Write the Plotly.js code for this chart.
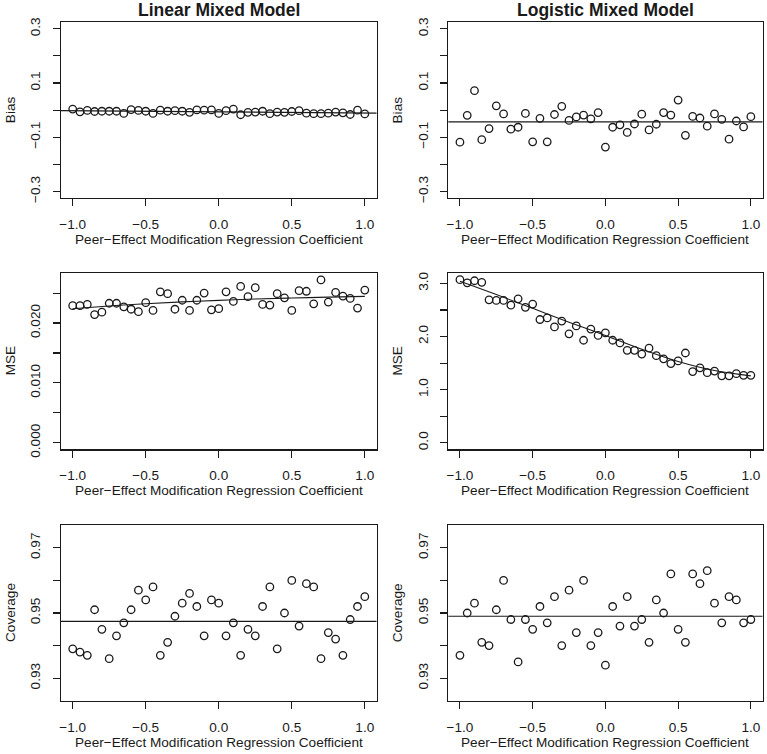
<!DOCTYPE html>
<html>
<head>
<meta charset="utf-8">
<script src="https://cdn.plot.ly/plotly-3.0.1.min.js"></script>
<style>html,body{margin:0;padding:0;background:#fff;}#chart{width:767px;height:754px;}</style>
</head>
<body>
<div id="chart"></div>
<script>
// ---------------- data ----------------
const coef = [-1.00,-0.95,-0.90,-0.85,-0.80,-0.75,-0.70,-0.65,-0.60,-0.55,-0.50,-0.45,-0.40,-0.35,-0.30,-0.25,-0.20,-0.15,-0.10,-0.05,
  0.00,0.05,0.10,0.15,0.20,0.25,0.30,0.35,0.40,0.45,0.50,0.55,0.60,0.65,0.70,0.75,0.80,0.85,0.90,0.95,1.00];

const linearBias = [0.004,-0.006,-0.001,-0.005,-0.004,-0.004,-0.004,-0.012,0.002,-0.001,-0.004,-0.012,0.000,-0.004,-0.002,-0.004,-0.008,0.001,0.000,0.001,
  -0.012,-0.002,0.004,-0.017,-0.008,-0.007,-0.004,-0.013,-0.007,-0.008,-0.005,-0.002,-0.011,-0.013,-0.013,-0.011,-0.007,-0.010,-0.016,0.000,-0.014];
const logisticBias = [-0.118,-0.019,0.072,-0.109,-0.068,0.016,-0.014,-0.070,-0.063,-0.012,-0.117,-0.030,-0.117,-0.016,0.014,-0.038,-0.025,-0.018,-0.032,-0.009,
  -0.136,-0.063,-0.054,-0.082,-0.051,-0.015,-0.073,-0.052,-0.009,-0.018,0.037,-0.093,-0.023,-0.029,-0.059,-0.014,-0.034,-0.107,-0.040,-0.062,-0.024];

const linearMSE = [0.0229,0.0229,0.0231,0.0214,0.0218,0.0233,0.0233,0.0227,0.0223,0.0219,0.0234,0.0221,0.0252,0.0249,0.0223,0.0238,0.0221,0.0238,0.0250,0.0222,
  0.0224,0.0252,0.0236,0.0261,0.0244,0.0259,0.0231,0.0230,0.0249,0.0242,0.0221,0.0254,0.0253,0.0232,0.0272,0.0235,0.0251,0.0245,0.0241,0.0225,0.0255];
const logisticMSE = [3.07,3.01,3.05,3.02,2.69,2.68,2.68,2.59,2.71,2.55,2.61,2.32,2.35,2.18,2.29,2.05,2.20,1.93,2.14,2.02,
  2.07,1.93,1.88,1.74,1.74,1.67,1.78,1.64,1.58,1.49,1.54,1.69,1.34,1.41,1.32,1.35,1.26,1.26,1.30,1.27,1.27];

const linearCoverage = [0.939,0.938,0.937,0.951,0.945,0.936,0.943,0.947,0.951,0.957,0.954,0.958,0.937,0.941,0.949,0.953,0.956,0.952,0.943,0.954,
  0.953,0.943,0.947,0.937,0.945,0.943,0.952,0.958,0.939,0.950,0.960,0.946,0.959,0.958,0.936,0.944,0.942,0.937,0.948,0.952,0.955];
const logisticCoverage = [0.937,0.950,0.953,0.941,0.940,0.951,0.960,0.948,0.935,0.948,0.945,0.952,0.947,0.955,0.940,0.957,0.944,0.960,0.940,0.944,
  0.934,0.952,0.946,0.955,0.946,0.948,0.941,0.954,0.950,0.962,0.945,0.941,0.962,0.959,0.963,0.953,0.947,0.955,0.954,0.947,0.948];

// smooth fits (MSE panels)
const fitCoef = [-1.00,-0.75,-0.50,-0.25,0.00,0.25,0.50,0.75,1.00];
const linearMSEFit = [0.02239,0.02284,0.02322,0.02352,0.02378,0.02400,0.02417,0.02432,0.02444];
const logisticMSEFit = [3.04,2.79,2.53,2.27,2.02,1.76,1.53,1.36,1.26];

// reference lines (ablines): [left end, right end]
const linearBiasLine = [-0.002,-0.011];
const logisticBiasLine = [-0.043,-0.043];
const linearCoverageLine = [0.9474,0.9474];
const logisticCoverageLine = [0.949,0.949];

// ticks
const xTickVals = [-1,-0.5,0,0.5,1];
const xTickText = ["\u22121.0","\u22120.5","0.0","0.5","1.0"];
const biasTickVals = [-0.3,-0.2,-0.1,0,0.1,0.2,0.3];
const biasTickText = ["\u22120.3","","\u22120.1","","0.1","","0.3"];
const linMSETickVals = [0,0.005,0.010,0.015,0.020,0.025];
const linMSETickText = ["0.000","","0.010","","0.020",""];
const logMSETickVals = [0,0.5,1,1.5,2,2.5,3];
const logMSETickText = ["0.0","","1.0","","2.0","","3.0"];
const covTickVals = [0.93,0.94,0.95,0.96,0.97];
const covTickText = ["0.93","","0.95","","0.97"];

const panelTitles = ["Linear Mixed Model","Logistic Mixed Model"];
const yTitles = ["Bias","MSE","Coverage"];
const xTitle = "Peer\u2212Effect Modification Regression Coefficient";

// ---------------- layout helpers ----------------
const W = 767, H = 754;
const FONT = "Liberation Sans, Arial, Helvetica, sans-serif";
const INK = "#1a1a1a";
const FS = 13.6;
const colPx = [[61,376.5],[448.3,762.5]];
const rowPx = [[22.3,198],[273.3,449.3],[525,701]];
const colDom = colPx.map(c => [c[0]/W, c[1]/W]);
const rowDom = rowPx.map(r => [1 - r[1]/H, 1 - r[0]/H]);

function pts(xs, ys, ax) {
  return {x: xs, y: ys, xaxis: 'x'+ax, yaxis: 'y'+ax, type: 'scatter', mode: 'markers',
    marker: {symbol: 'circle-open', size: 7.5, color: INK, line: {width: 1.3, color: INK}},
    hoverinfo: 'x+y', showlegend: false};
}
function fit(xs, ys, ax) {
  return {x: xs, y: ys, xaxis: 'x'+ax, yaxis: 'y'+ax, type: 'scatter', mode: 'lines',
    line: {color: INK, width: 1.1, shape: 'spline'}, hoverinfo: 'skip', showlegend: false};
}
function hline(vals, ax) {
  return {type: 'line', xref: 'x'+ax+' domain', yref: 'y'+ax, x0: 0, x1: 1, y0: vals[0], y1: vals[1],
    line: {color: INK, width: 1.2}};
}

const traces = [
  pts(coef, linearBias, ''), pts(coef, logisticBias, '2'),
  pts(coef, linearMSE, '3'), fit(fitCoef, linearMSEFit, '3'),
  pts(coef, logisticMSE, '4'), fit(fitCoef, logisticMSEFit, '4'),
  pts(coef, linearCoverage, '5'), pts(coef, logisticCoverage, '6')
];

const layout = {
  width: W, height: H, margin: {l: 0, r: 0, t: 0, b: 0},
  paper_bgcolor: '#fff', plot_bgcolor: '#fff',
  font: {family: FONT, size: FS, color: INK},
  showlegend: false,
  shapes: [hline(linearBiasLine, ''), hline(logisticBiasLine, '2'),
           hline(linearCoverageLine, '5'), hline(logisticCoverageLine, '6')],
  annotations: []
};

const yInfo = [
  [biasTickVals, biasTickText, [-0.324,0.324]],
  [biasTickVals, biasTickText, [-0.324,0.324]],
  [linMSETickVals, linMSETickText, [-0.00109,0.0283]],
  [logMSETickVals, logMSETickText, [-0.123,3.19]],
  [covTickVals, covTickText, [0.923,0.977]],
  [covTickVals, covTickText, [0.923,0.977]]
];

for (let i = 0; i < 6; i++) {
  const r = Math.floor(i/2), c = i % 2;
  const k = i === 0 ? '' : String(i+1);
  const common = {showline: true, mirror: true, linecolor: INK, linewidth: 1.3,
    ticks: 'outside', ticklen: 7, tickwidth: 1.1, tickcolor: INK, showgrid: false, zeroline: false,
    tickfont: {family: FONT, size: FS, color: INK}, fixedrange: true};
  layout['xaxis'+k] = Object.assign({}, common, {domain: colDom[c], anchor: 'y'+k,
    range: [-1.08,1.08], tickmode: 'array', tickvals: xTickVals, ticktext: xTickText, ticklabelstandoff: 6});
  layout['yaxis'+k] = Object.assign({}, common, {domain: rowDom[r], anchor: 'x'+k,
    range: yInfo[i][2], tickmode: 'array', tickvals: yInfo[i][0], ticktext: yInfo[i][1], tickangle: -90, ticklabelstandoff: 7});

  const cx = (colPx[c][0] + colPx[c][1]) / 2 / W;
  const cy = 1 - (rowPx[r][0] + rowPx[r][1]) / 2 / H;
  layout.annotations.push({text: xTitle, xref: 'paper', yref: 'paper', x: cx, y: 1 - (rowPx[r][1] + 41)/H,
    xanchor: 'center', yanchor: 'middle', showarrow: false, font: {family: FONT, size: FS, color: INK}});
  layout.annotations.push({text: yTitles[r], xref: 'paper', yref: 'paper', x: (colPx[c][0] - 51)/W, y: cy,
    xanchor: 'center', yanchor: 'middle', textangle: -90, showarrow: false, font: {family: FONT, size: FS, color: INK}});
  if (r === 0) {
    layout.annotations.push({text: '<b>' + panelTitles[c] + '</b>', xref: 'paper', yref: 'paper', x: cx, y: 1 - 10/H,
      xanchor: 'center', yanchor: 'middle', showarrow: false, font: {family: FONT, size: 17.5, color: INK}});
  }
}

Plotly.newPlot('chart', traces, layout, {staticPlot: true, displayModeBar: false});
</script>
</body>
</html>
